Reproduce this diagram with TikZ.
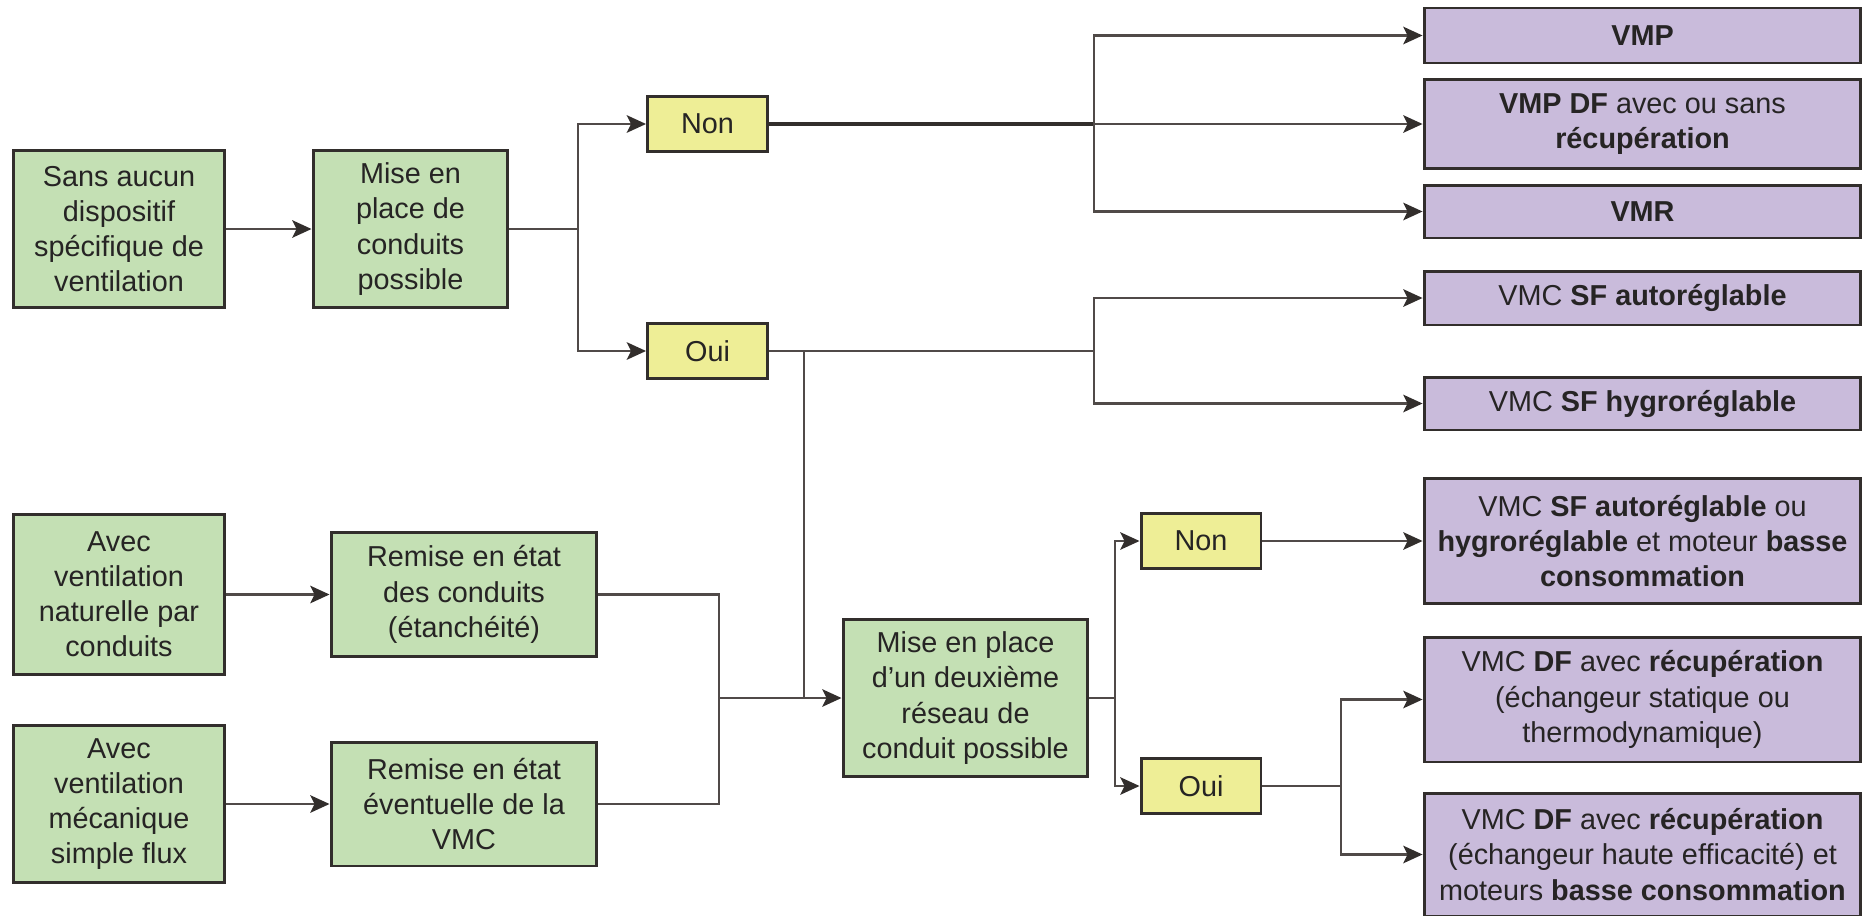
\documentclass[tikz,border=0pt]{standalone}
\usepackage{fontspec}
\setmainfont{Liberation Sans}
\usetikzlibrary{arrows.meta}
\definecolor{vertclair}{RGB}{196,224,180}
\definecolor{jauneclair}{RGB}{238,238,150}
\definecolor{mauveclair}{RGB}{201,187,219}
\definecolor{bordure}{RGB}{50,46,44}
\definecolor{trait}{RGB}{80,74,72}
\definecolor{texte}{RGB}{38,36,36}

\begin{document}
\begin{tikzpicture}[x=0.02cm, y=-0.02cm,
      every node/.style={font=\fontsize{16.4pt}{20pt}\selectfont, text=texte, align=center, inner sep=0pt},
      box/.style={draw=bordure, line width=1.7pt},
      gb/.style={box, fill=vertclair},
      yb/.style={box, fill=jauneclair, minimum width=2.4cm, minimum height=1.1cm},
      pb/.style={box, fill=mauveclair, minimum width=8.74cm},
      ln/.style={draw=trait, line width=1.3pt},
      arr/.style={ln, -{Stealth[length=11pt,width=10pt,inset=2.5pt,color=bordure]}}]
      \useasboundingbox (0,0) rectangle (1863,916);
      % Left column
      \node[gb, minimum width=4.24cm, minimum height=3.16cm] (sans) at (119,229) {Sans aucun\\dispositif\\spécifique de\\ventilation};
      \node[gb, minimum width=4.24cm, minimum height=3.22cm] (natur) at (119,594.5) {Avec\\ventilation\\naturelle par\\conduits};
      \node[gb, minimum width=4.24cm, minimum height=3.14cm] (meca) at (119,804) {Avec\\ventilation\\mécanique\\simple flux};
      % Second column
      \node[gb, minimum width=3.9cm, minimum height=3.16cm] (mise) at (410.5,229) {Mise en\\place de\\conduits\\possible};
      \node[gb, minimum width=5.32cm, minimum height=2.48cm] (remconduits) at (464,594.5) {Remise en état\\des conduits\\(étanchéité)};
      \node[gb, minimum width=5.32cm, minimum height=2.48cm] (remvmc) at (464,804) {Remise en état\\éventuelle de la\\VMC};
      % Questions
      \node[yb] (non) at (707.5,124) {Non};
      \node[yb] (oui) at (707.5,351) {Oui};
      \node[gb, minimum width=4.9cm, minimum height=3.16cm] (mise2) at (965.5,698) {Mise en place\\d’un deuxième\\réseau de\\conduit possible};
      \node[yb] (non2) at (1201,541) {Non};
      \node[yb] (oui2) at (1201,786) {Oui};
      % Right column
      \node[pb, minimum height=1.1cm] (vmp) at (1642.5,35.5) {\textbf{VMP}};
      \node[pb, minimum height=1.8cm] (vmpdf) at (1642.5,124) {\textbf{VMP DF} avec ou sans\\\textbf{récupération}};
      \node[pb, minimum height=1.06cm] (vmr) at (1642.5,211.5) {\textbf{VMR}};
      \node[pb, minimum height=1.08cm] (auto) at (1642.5,298) {VMC \textbf{SF autoréglable}};
      \node[pb, minimum height=1.06cm] (hygro) at (1642.5,403.5) {VMC \textbf{SF hygroréglable}};
      \node[pb, minimum height=2.5cm] (sfbasse) at (1642.5,541) {VMC \textbf{SF autoréglable} ou\\\textbf{hygroréglable} et moteur \textbf{basse}\\\textbf{consommation}};
      \node[pb, minimum height=2.5cm] (dfstat) at (1642.5,699.5) {VMC \textbf{DF} avec \textbf{récupération}\\(échangeur statique ou\\thermodynamique)};
      \node[pb, minimum height=2.46cm] (dfhaute) at (1642.5,854.5) {VMC \textbf{DF} avec \textbf{récupération}\\(échangeur haute efficacité) et\\moteurs \textbf{basse consommation}};
      % Junctions
      \coordinate (j1) at (578,229);
      \coordinate (j2) at (1094,124);
      \coordinate (j3) at (1094,351);
      \coordinate (j4) at (719,698);
      \coordinate (j5) at (804,698);
      \coordinate (j6) at (1115,698);
      \coordinate (j7) at (1341,786);
      % Connectors
      \draw[arr] (sans) -- (mise);
      \draw[ln] (mise.east) -- (j1);
      \draw[arr] (j1) |- (non.west);
      \draw[arr] (j1) |- (oui.west);
      \draw[ln, line width=1.9pt, draw=bordure] (non.east) -- (j2);
      \draw[arr] (j2) |- (vmp.west);
      \draw[arr] (j2) -- (vmpdf.west);
      \draw[arr] (j2) |- (vmr.west);
      \draw[ln] (oui.east) -- (j3);
      \draw[arr] (j3) |- (auto.west);
      \draw[arr] (j3) |- (hygro.west);
      \draw[ln] (oui.east) -| (j5);
      \draw[arr] (natur) -- (remconduits);
      \draw[arr] (meca) -- (remvmc);
      \draw[ln] (remconduits.east) -| (j4);
      \draw[ln] (remvmc.east) -| (j4);
      \draw[arr] (j4) -- (mise2.west);
      \draw[ln] (mise2.east) -- (j6);
      \draw[arr] (j6) |- (non2.west);
      \draw[arr] (j6) |- (oui2.west);
      \draw[arr] (non2.east) -- (non2.east -| sfbasse.west);
      \draw[ln] (oui2.east) -- (j7);
      \draw[arr] (j7) |- (dfstat.west);
      \draw[arr] (j7) |- (dfhaute.west);
    \end{tikzpicture}
\end{document}
